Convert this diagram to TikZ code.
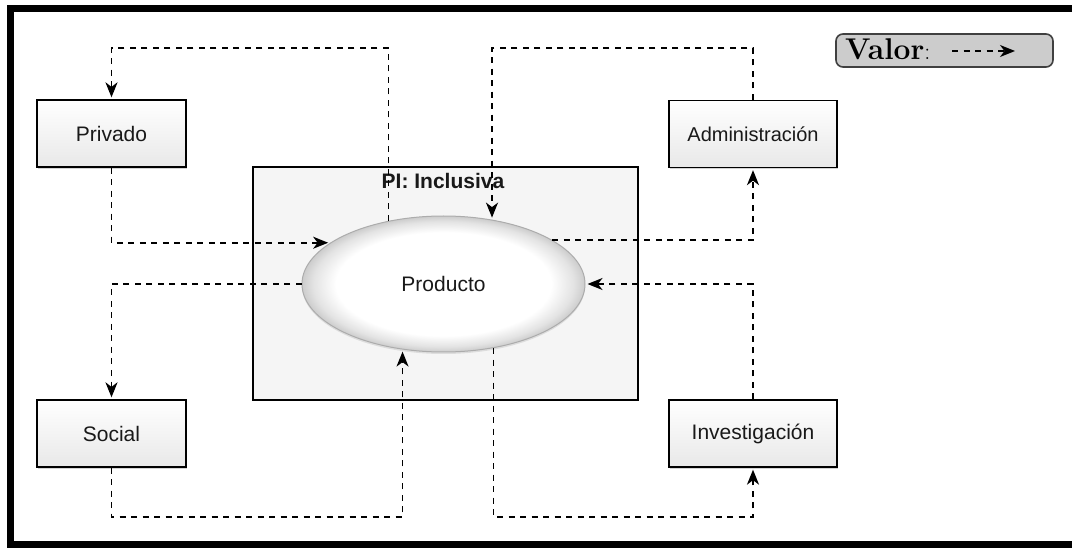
\documentclass[tikz,border=0pt]{standalone}
\usepackage{fontspec}
\newfontfamily\arial{Liberation Sans}
\usetikzlibrary{arrows.meta,shadows,shapes.geometric}

% white centre fading to grey at the rim of the ellipse
\pgfdeclareradialshading{prodshade}{\pgfpoint{0bp}{0bp}}{%
  color(0bp)=(white); color(19bp)=(white); color(23bp)=(gray!22); color(25bp)=(gray!40); color(50bp)=(gray!40)}

\tikzset{
  frame/.style={line width=7pt, draw=black},
  stakebox/.style={draw=black, line width=1.3pt, top color=white, bottom color=gray!18,
    minimum width=#1, minimum height=67pt, inner sep=0pt,
    font=\arial\fontsize{21}{25}\selectfont, text=black!90,
    drop shadow={shadow xshift=1pt, shadow yshift=-2pt, opacity=0.35}},
  container/.style={draw=black, line width=1.1pt, fill=gray!8, inner sep=0pt},
  prodnode/.style={ellipse, draw=gray!65, line width=1pt, shading=prodshade,
    minimum width=283pt, minimum height=136pt, inner sep=0pt,
    font=\arial\fontsize{21}{25}\selectfont, text=black!90,
    drop shadow={shadow xshift=0pt, shadow yshift=-2pt, opacity=0.2}},
  flow/.style={draw=black, line width=1.8pt, dash pattern=on 6pt off 5.5pt,
    shorten >=2pt, -{Stealth[length=15pt,width=12pt,inset=4.5pt]}},
  legendbox/.style={draw=black!75, line width=1.6pt, fill=gray!40, rounded corners=7pt,
    minimum width=217pt, minimum height=33pt, inner sep=0pt},
}

\begin{document}
\begin{tikzpicture}[x=1pt,y=-1pt]
\useasboundingbox (0,0) rectangle (1072,548);

% outer frame (open on the right)
\begin{scope}
  \clip (0,0) rectangle (1072,548);
  \draw[frame] (1090,8.5) -- (10.5,8.5) -- (10.5,544.5) -- (1090,544.5);
\end{scope}

% container
\node[container, minimum width=385pt, minimum height=233pt] (pi) at (445.5,283.5) {};
\node[font=\arial\bfseries\fontsize{21}{25}\selectfont, text=black!90] (pilabel) at (443,181) {PI: Inclusiva};

% routing levels
\coordinate (tl) at (0,48);
\coordinate (bl) at (0,517);

% central element
\node[prodnode] (prod) at (443.5,284) {Producto};

% stakeholders
\node[stakebox=149pt] (priv) at (111.5,133.5) {Privado};
\node[stakebox=168pt, font=\arial\fontsize{20}{24}\selectfont] (adm) at (753,134) {Administración};
\node[stakebox=149pt] (soc) at (111.5,433.5) {Social};
\node[stakebox=168pt] (inv) at (753,433.5) {Investigación};

% value flows
\draw[flow] (prod.131) -- (prod.131 |- tl) -| (priv.north);
\draw[flow] (priv.south) |- (prod.160);
\draw[flow] (adm.north) -- (adm.north |- tl) -| (prod.53);
\draw[flow] (prod.22) -| (adm.south);
\draw[flow] (prod.west) -| (soc.north);
\draw[flow] (soc.south) -- (soc.south |- bl) -| (prod.238);
\draw[flow] (inv.north) |- (prod.east);
\draw[flow] (prod.308) -- (prod.308 |- bl) -| (inv.south);

% legend
\node[legendbox] (legend) at (944.5,50.5) {};
\node[anchor=base west, inner sep=0pt, font=\fontsize{30}{34}\selectfont] (legtext) at (845,60) {\textbf{Valor}\fontsize{24}{28}\selectfont:};
\coordinate (legA) at (952,51);
\coordinate (legB) at (1017,51);
\draw[flow] (legA) -- (legB);
\end{tikzpicture}
\end{document}
